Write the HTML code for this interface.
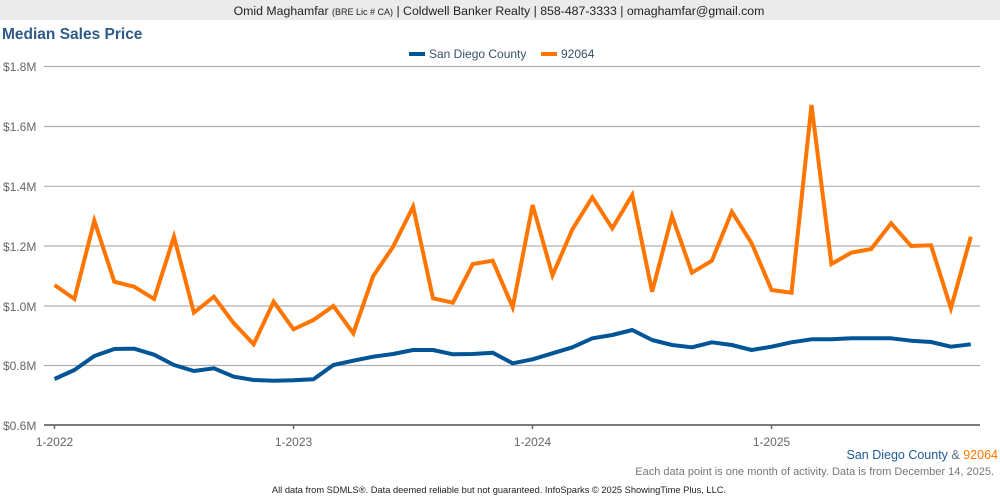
<!DOCTYPE html>
<html><head><meta charset="utf-8"><style>
html,body{margin:0;padding:0;background:#fff;width:1000px;height:500px;overflow:hidden;font-family:"Liberation Sans",Arial,sans-serif}
svg{display:block}
</style></head><body>
<svg width="1000" height="500" viewBox="0 0 1000 500" xmlns="http://www.w3.org/2000/svg" font-family="Liberation Sans, Arial, sans-serif">
<rect x="0" y="0" width="1000" height="20" fill="#ebebeb"/>
<text x="499" y="15" text-anchor="middle" font-size="12.3" fill="#222">Omid Maghamfar <tspan font-size="9">(BRE Lic # CA)</tspan> | Coldwell Banker Realty | 858-487-3333 | omaghamfar@gmail.com</text>
<text x="2" y="39" font-size="15.5" font-weight="bold" fill="#2e5a87">Median Sales Price</text>
<rect x="409" y="52" width="16" height="4" fill="#005596"/>
<text x="429" y="58" font-size="12" fill="#3a4f6a">San Diego County</text>
<rect x="541" y="52" width="16" height="4" fill="#ff7500"/>
<text x="561" y="58" font-size="12" fill="#3a4f6a">92064</text>
<g stroke="#b0b0b0" stroke-width="1.2">
<line x1="44" y1="66.5" x2="980" y2="66.5"/>
<line x1="44" y1="126.5" x2="980" y2="126.5"/>
<line x1="44" y1="186.3" x2="980" y2="186.3"/>
<line x1="44" y1="246" x2="980" y2="246"/>
<line x1="44" y1="306" x2="980" y2="306"/>
<line x1="44" y1="365.5" x2="980" y2="365.5"/>
</g>
<g font-size="12" fill="#666">
<text x="3" y="71">$1.8M</text>
<text x="3" y="131">$1.6M</text>
<text x="3" y="191">$1.4M</text>
<text x="3" y="251">$1.2M</text>
<text x="3" y="311">$1.0M</text>
<text x="3" y="370">$0.8M</text>
<text x="3" y="430">$0.6M</text>
</g>
<line x1="44" y1="425" x2="980" y2="425" stroke="#6a6a6a" stroke-width="1.8"/>
<g stroke="#6a6a6a" stroke-width="1.5">
<line x1="54.5" y1="425" x2="54.5" y2="429"/>
<line x1="293.5" y1="425" x2="293.5" y2="429"/>
<line x1="532.5" y1="425" x2="532.5" y2="429"/>
<line x1="771.5" y1="425" x2="771.5" y2="429"/>
</g>
<g font-size="12" fill="#666" text-anchor="middle">
<text x="54.5" y="446">1-2022</text>
<text x="293.5" y="446">1-2023</text>
<text x="532.5" y="446">1-2024</text>
<text x="771.5" y="446">1-2025</text>
</g>
<polyline fill="none" stroke="#ff7500" stroke-width="4" stroke-linejoin="miter" stroke-miterlimit="4" points="
54.5,285 74.4,299 94.3,220.7 114.3,281.7 134.2,286.7 154.1,299 174,236.7 193.9,312.7 213.9,296.7 233.8,323.3 253.7,344.3 273.6,301.7 293.5,329.3 313.5,320 333.4,306 353.3,333.3 373.2,276 393.1,246.7 413.1,206.7 433,298.3 452.9,302.7 472.8,264 492.7,260.7 512.7,307.3 532.6,205 552.5,275.3 572.4,229.3 592.3,197.3 612.3,228.3 632.2,195 652.1,291.7 672,216 691.9,272.7 711.9,260.7 731.8,211.7 751.7,243.3 771.6,290 791.5,292.7 811.5,105 831.4,264 851.3,252.7 871.2,249 891.1,223.3 911.1,246 931,245.3 950.9,308.3 970.8,236.7"/>
<polyline fill="none" stroke="#005596" stroke-width="4" stroke-linejoin="round" points="
54.5,379 74.4,370 94.3,356 114.3,349 134.2,348.7 154.1,354.7 174,365 193.9,371 213.9,368.3 233.8,376.7 253.7,380 273.6,380.7 293.5,380.3 313.5,379.3 333.4,365 353.3,360.7 373.2,356.7 393.1,354 413.1,350 433,350 452.9,354.3 472.8,354 492.7,352.7 512.7,363.3 532.6,359.3 552.5,353.3 572.4,347.3 592.3,338.3 612.3,335 632.2,330 652.1,340 672,345 691.9,347.3 711.9,342.3 731.8,345 751.7,350 771.6,346.7 791.5,342.3 811.5,339.3 831.4,339.3 851.3,338.3 871.2,338.3 891.1,338.3 911.1,340.7 931,342 950.9,346.7 970.8,344.3"/>
<text x="998" y="459" text-anchor="end" font-size="12.5"><tspan fill="#1d5b94">San Diego County</tspan><tspan fill="#5a6a80"> &amp; </tspan><tspan fill="#ff7500">92064</tspan></text>
<text x="994" y="475" text-anchor="end" font-size="11" fill="#777">Each data point is one month of activity. Data is from December 14, 2025.</text>
<text x="499" y="493" text-anchor="middle" font-size="9.3" fill="#222">All data from SDMLS®. Data deemed reliable but not guaranteed. InfoSparks © 2025 ShowingTime Plus, LLC.</text>
</svg>
</body></html>
